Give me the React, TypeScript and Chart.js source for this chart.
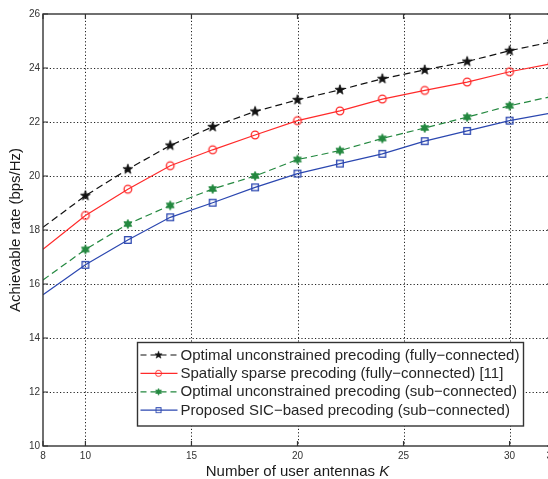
import React, { useEffect, useRef } from 'react';
import { Chart, registerables } from 'chart.js';
Chart.register(...registerables);

const userAntennas = [8, 10, 12, 14, 16, 18, 20, 22, 24, 26, 28, 30, 32];
const optimalFully = [18.1, 19.27, 20.25, 21.13, 21.82, 22.39, 22.82, 23.19, 23.6, 23.93, 24.24, 24.64, 24.97];
const sparseFully = [17.29, 18.54, 19.51, 20.38, 20.97, 21.52, 22.05, 22.41, 22.85, 23.17, 23.48, 23.86, 24.16];
const optimalSub = [16.15, 17.28, 18.22, 18.91, 19.52, 20.0, 20.61, 20.94, 21.39, 21.78, 22.18, 22.6, 22.95];
const sicSub = [15.6, 16.71, 17.63, 18.47, 19.01, 19.58, 20.09, 20.46, 20.82, 21.29, 21.67, 22.05, 22.34];

const seriesLabels = [
  'Optimal unconstrained precoding (fully\u2212connected)',
  'Spatially sparse precoding (fully\u2212connected) [11]',
  'Optimal unconstrained precoding (sub\u2212connected)',
  'Proposed SIC\u2212based precoding (sub\u2212connected)',
];
const xTickValues = [8, 10, 15, 20, 25, 30, 32];
const yTickValues = [10, 12, 14, 16, 18, 20, 22, 24, 26];
const xGridValues = [10, 15, 20, 25, 30];
const yGridValues = [12, 14, 16, 18, 20, 22, 24];
const xTitleText = 'Number of user antennas ';
const xTitleVar = 'K';
const yTitleText = 'Achievable rate (bps/Hz)';

const FONT = "'Liberation Sans', Arial, Helvetica, sans-serif";

function makeMarker(kind: string, color: string): HTMLCanvasElement {
  const s = 14;
  const c = document.createElement('canvas');
  c.width = s;
  c.height = s;
  const ctx = c.getContext('2d')!;
  const cx = s / 2, cy = s / 2;
  ctx.strokeStyle = color;
  ctx.fillStyle = color;
  ctx.lineWidth = 1.3;
  if (kind === 'pentagram' || kind === 'hexagram') {
    const n = kind === 'pentagram' ? 5 : 6;
    const ro = kind === 'pentagram' ? 5.2 : 4.6;
    const ri = kind === 'pentagram' ? 2.1 : 2.6;
    ctx.beginPath();
    for (let i = 0; i < n * 2; i++) {
      const r = i % 2 === 0 ? ro : ri;
      const a = -Math.PI / 2 + (i * Math.PI) / n;
      const px = cx + r * Math.cos(a);
      const py = cy + r * Math.sin(a);
      if (i === 0) ctx.moveTo(px, py);
      else ctx.lineTo(px, py);
    }
    ctx.closePath();
    ctx.fill();
    ctx.lineWidth = 0.8;
    ctx.stroke();
  } else if (kind === 'circle') {
    ctx.beginPath();
    ctx.arc(cx, cy, 3.8, 0, Math.PI * 2);
    ctx.stroke();
  } else if (kind === 'square') {
    ctx.strokeRect(cx - 3.3, cy - 3.3, 6.6, 6.6);
  }
  return c;
}

export default function App() {
  const canvasRef = useRef<HTMLCanvasElement | null>(null);

  useEffect(() => {
    const canvas = canvasRef.current;
    if (!canvas) return;

    const colors = ['#111111', '#ff2a2a', '#23883f', '#2b47b0'];
    const dashes = [[7, 4], [], [7, 4], []];
    const markerKinds = ['pentagram', 'circle', 'hexagram', 'square'];
    const values = [optimalFully, sparseFully, optimalSub, sicSub];
    const markers = markerKinds.map((k, i) => makeMarker(k, colors[i]));

    const datasets = values.map((vals, i) => ({
      label: seriesLabels[i],
      data: userAntennas.map((k, j) => ({ x: k, y: vals[j] })),
      borderColor: colors[i],
      backgroundColor: colors[i],
      borderWidth: 1.2,
      borderDash: dashes[i],
      pointStyle: markers[i] as any,
      pointRadius: userAntennas.map((k, j) => (j === 0 ? 0 : 4)),
      tension: 0,
      fill: false,
    }));

    const frame = {
      id: 'matlabFrame',
      beforeDatasetsDraw(chart: any) {
        const { ctx, chartArea: a, scales } = chart;
        const xs = scales.x, ys = scales.y;
        ctx.save();
        ctx.strokeStyle = '#222';
        ctx.lineWidth = 1;
        ctx.setLineDash([1.2, 2.2]);
        xGridValues.forEach((v) => {
          const px = Math.round(xs.getPixelForValue(v)) + 0.5;
          ctx.beginPath();
          ctx.moveTo(px, a.top);
          ctx.lineTo(px, a.bottom);
          ctx.stroke();
        });
        yGridValues.forEach((v) => {
          const py = Math.round(ys.getPixelForValue(v)) + 0.5;
          ctx.beginPath();
          ctx.moveTo(a.left, py);
          ctx.lineTo(a.right, py);
          ctx.stroke();
        });
        ctx.restore();
      },
      afterDatasetsDraw(chart: any) {
        const { ctx, chartArea: a, scales } = chart;
        const xs = scales.x, ys = scales.y;
        ctx.save();
        ctx.setLineDash([]);
        ctx.strokeStyle = '#333';
        ctx.lineWidth = 1.4;
        ctx.strokeRect(a.left, a.top, a.right - a.left, a.bottom - a.top);
        ctx.lineWidth = 1.2;
        const tl = 5;
        xTickValues.forEach((v) => {
          const px = xs.getPixelForValue(v);
          ctx.beginPath();
          ctx.moveTo(px, a.bottom);
          ctx.lineTo(px, a.bottom - tl);
          ctx.moveTo(px, a.top);
          ctx.lineTo(px, a.top + tl);
          ctx.stroke();
        });
        yTickValues.forEach((v) => {
          const py = ys.getPixelForValue(v);
          ctx.beginPath();
          ctx.moveTo(a.left, py);
          ctx.lineTo(a.left + tl, py);
          ctx.moveTo(a.right, py);
          ctx.lineTo(a.right - tl, py);
          ctx.stroke();
        });
        ctx.restore();
      },
      afterDraw(chart: any) {
        const { ctx, chartArea: a } = chart;
        ctx.save();
        // Legend
        const lx = 137.5, ly = 342.5, lw = 386, lh = 83.5;
        ctx.fillStyle = '#ffffff';
        ctx.fillRect(lx, ly, lw, lh);
        ctx.strokeStyle = '#333';
        ctx.lineWidth = 1.4;
        ctx.setLineDash([]);
        ctx.strokeRect(lx, ly, lw, lh);
        ctx.font = `15px ${FONT}`;
        ctx.textBaseline = 'middle';
        ctx.textAlign = 'left';
        chart.data.datasets.forEach((ds: any, i: number) => {
          const ry = ly + 12.5 + i * 18.4;
          ctx.strokeStyle = ds.borderColor;
          ctx.lineWidth = 1.2;
          ctx.setLineDash(ds.borderDash.length ? [6, 4] : []);
          ctx.beginPath();
          ctx.moveTo(lx + 3, ry);
          ctx.lineTo(lx + 40, ry);
          ctx.stroke();
          ctx.setLineDash([]);
          const m = ds.pointStyle as HTMLCanvasElement;
          const mw = m.width * 0.75, mh = m.height * 0.75;
          ctx.drawImage(m, lx + 21 - mw / 2, ry - mh / 2, mw, mh);
          ctx.fillStyle = '#262626';
          ctx.fillText(ds.label, lx + 43, ry + 0.5);
        });
        // X title
        ctx.fillStyle = '#1a1a1a';
        ctx.textBaseline = 'alphabetic';
        ctx.font = `15px ${FONT}`;
        const w1 = ctx.measureText(xTitleText).width;
        ctx.font = `italic 15px ${FONT}`;
        const w2 = ctx.measureText(xTitleVar).width;
        const cx = (a.left + a.right) / 2;
        const startX = cx - (w1 + w2) / 2;
        const by = a.bottom + 29.5;
        ctx.font = `15px ${FONT}`;
        ctx.fillText(xTitleText, startX, by);
        ctx.font = `italic 15px ${FONT}`;
        ctx.fillText(xTitleVar, startX + w1, by);
        // Y title
        ctx.font = `15px ${FONT}`;
        ctx.translate(15.5, (a.top + a.bottom) / 2);
        ctx.rotate(-Math.PI / 2);
        ctx.textAlign = 'center';
        ctx.textBaseline = 'middle';
        ctx.fillText(yTitleText, 0, 0);
        ctx.restore();
      },
    };

    const chart = new Chart(canvas, {
      type: 'line',
      data: { datasets } as any,
      options: {
        animation: false,
        responsive: false,
        maintainAspectRatio: false,
        layout: { padding: { top: 14, right: 12, left: 0, bottom: 0 } },
        plugins: { legend: { display: false }, tooltip: { enabled: false } },
        scales: {
          x: {
            type: 'linear',
            min: 8,
            max: 32,
            grid: { display: false, drawTicks: false },
            border: { display: false },
            afterBuildTicks: (s: any) => {
              s.ticks = xTickValues.map((v) => ({ value: v }));
            },
            afterFit: (s: any) => {
              s.height = 33;
            },
            ticks: {
              autoSkip: false,
              maxRotation: 0,
              padding: 4,
              color: '#333',
              font: { size: 10, family: FONT },
            },
          },
          y: {
            type: 'linear',
            min: 10,
            max: 26,
            grid: { display: false, drawTicks: false },
            border: { display: false },
            afterBuildTicks: (s: any) => {
              s.ticks = yTickValues.map((v) => ({ value: v }));
            },
            afterFit: (s: any) => {
              s.width = 43;
            },
            ticks: {
              autoSkip: false,
              padding: 3,
              color: '#333',
              font: { size: 10, family: FONT },
            },
          },
        },
      } as any,
      plugins: [frame],
    });

    return () => chart.destroy();
  }, []);

  return (
    <div style={{ position: 'fixed', left: 0, top: 0, width: 548, height: 479, overflow: 'hidden', background: '#fff' }}>
      <canvas ref={canvasRef} width={564} height={479} style={{ width: 564, height: 479, display: 'block' }} />
    </div>
  );
}
